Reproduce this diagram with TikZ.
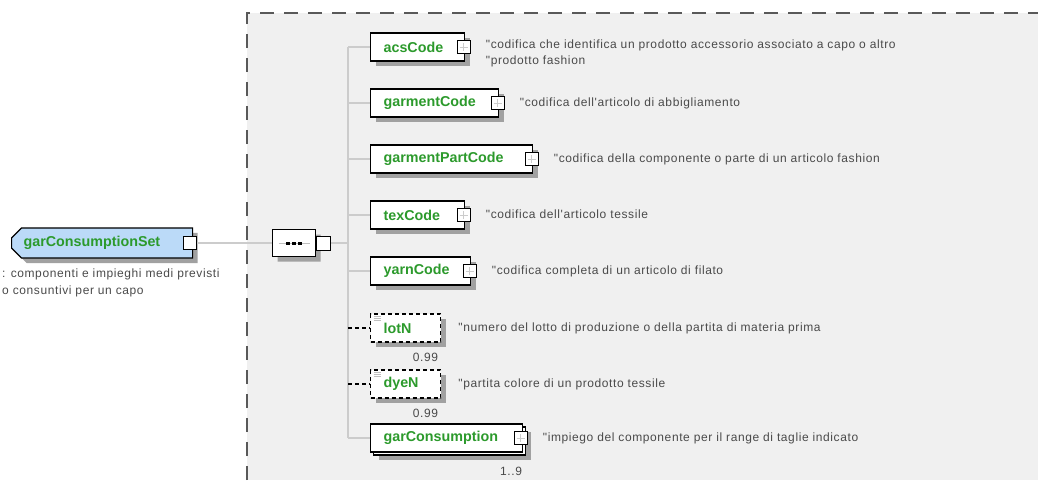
\documentclass[tikz,border=0pt]{standalone}
\usepackage{fontspec}
\setmainfont{Liberation Sans}
\newfontfamily\descfont[LetterSpace=5]{Liberation Sans}
\usetikzlibrary{positioning,shapes.misc,shadows}
\definecolor{bggray}{HTML}{F0F0F0}
\definecolor{elgreen}{HTML}{2C9A2C}
\definecolor{rootblue}{HTML}{BBDAF8}
\definecolor{desctext}{HTML}{4A4A4A}
\definecolor{linegray}{HTML}{CCCCCC}
\tikzset{
  boxshadow/.style={drop shadow={shadow xshift=5pt,shadow yshift=-5pt,fill=black!37,opacity=1}},
  elembase/.style={draw=black,line width=1.2pt,fill=white,anchor=west,minimum height=28pt,
    inner xsep=13pt,align=left,font=\bfseries\fontsize{14.3}{16}\selectfont,text=elgreen},
  elem/.style={elembase,boxshadow},
  optelem/.style={elem,dash pattern=on 4pt off 3pt,
    path picture={\draw[solid,black!25,line width=0.7pt]
      ([xshift=3pt,yshift=-2pt]path picture bounding box.north west) -- ++(7,0)
      ([xshift=3pt,yshift=-4pt]path picture bounding box.north west) -- ++(7,0)
      ([xshift=3pt,yshift=-6pt]path picture bounding box.north west) -- ++(7,0);}},
  multielem/.style={elembase,drop shadow={shadow xshift=8pt,shadow yshift=-8pt,fill=black!37,opacity=1},
    copy shadow={shadow xshift=3pt,shadow yshift=-3pt,draw=black,fill=white}},
  rootelem/.style={chamfered rectangle,chamfered rectangle corners={north west,south west},
    chamfered rectangle xsep=5pt,chamfered rectangle ysep=5pt,draw=black,line width=1.2pt,
    fill=rootblue,boxshadow,anchor=west,minimum width=181pt,minimum height=28pt,inner xsep=2pt,
    align=left,font=\bfseries\fontsize{14.3}{16}\selectfont,text=elgreen},
  seqbox/.style={chamfered rectangle,chamfered rectangle xsep=6pt,chamfered rectangle ysep=6pt,
    draw=black,line width=1.2pt,fill=white,boxshadow,anchor=west,minimum width=43pt,
    minimum height=27pt,inner sep=0pt,
    path picture={\draw[black!25,line width=1pt] ([xshift=6pt]path picture bounding box.west)
      -- ([xshift=-6pt]path picture bounding box.east);
      \foreach \k in {-6,0,6}
        \fill[black] ([xshift=\k pt]path picture bounding box.center) ++(-2,-1.5) rectangle ++(4,3);}},
  portbox/.style={draw=black,line width=1pt,fill=white,minimum size=13pt,inner sep=0pt},
  plusbox/.style={portbox,
    path picture={\draw[black!20,line width=1pt]
      ([yshift=-2.5pt]path picture bounding box.north) -- ([yshift=2.5pt]path picture bounding box.south)
      ([xshift=2.5pt]path picture bounding box.west) -- ([xshift=-2.5pt]path picture bounding box.east);}},
  desc/.style={anchor=base west,inner sep=0pt,text=desctext,font=\descfont\fontsize{12}{16}\selectfont,align=left},
  card/.style={anchor=base east,inner sep=0pt,text=desctext,font=\descfont\fontsize{12}{14}\selectfont},
  conn/.style={draw=linegray,line width=1.2pt},
}
\begin{document}
\begin{tikzpicture}[x=1pt,y=-1pt]
\useasboundingbox (0,0) rectangle (1038,480);
\fill[bggray] (247,13) rectangle (1038,480);
\draw[black!65,line width=1.5pt,dash pattern=on 14pt off 10pt] (247,480) -- (247,13) -- (1038,13);

% root element
\node[rootelem,text width=157pt] (root) at (11,243) {garConsumptionSet};
\node[portbox] (rootport) at ([xshift=-3pt]root.east) {};
\node[desc,font=\descfont\fontsize{12}{17}\selectfont] (rootdesc) at (2,294)
  {: componenti e impieghi medi previsti\\o consuntivi per un capo};

% sequence
\node[seqbox] (seq) at (272,243) {};
\node[portbox,anchor=west,minimum size=14pt] (seqport) at (seq.east) {};
\coordinate (trunk) at (348,243);

% children
\node[elem,text width=68pt] (acs) at (370,47) {acsCode};
\node[plusbox] (acsplus) at ([xshift=-1.5pt]acs.east) {};
\node[elem,text width=102pt] (garment) at (370,103) {garmentCode};
\node[plusbox] (garmentplus) at ([xshift=-1.5pt]garment.east) {};
\node[elem,text width=136pt] (garmentpart) at (370,159) {garmentPartCode};
\node[plusbox] (garmentpartplus) at ([xshift=-1.5pt]garmentpart.east) {};
\node[elem,text width=68pt] (tex) at (370,215) {texCode};
\node[plusbox] (texplus) at ([xshift=-1.5pt]tex.east) {};
\node[elem,text width=74pt] (yarn) at (370,271) {yarnCode};
\node[plusbox] (yarnplus) at ([xshift=-1.5pt]yarn.east) {};
\node[optelem,text width=44pt] (lotN) at (370,328) {lotN};
\node[optelem,text width=44pt] (dyeN) at (370,384) {dyeN};
\node[multielem,text width=126pt] (garc) at (370,438) {garConsumption};
\node[plusbox] (garcplus) at ([xshift=-2.5pt]garc.east) {};

% cardinalities
\node[card] (lotNcard) at ([xshift=-3pt,yshift=-19pt]lotN.south east) {0.99};
\node[card] (dyeNcard) at ([xshift=-3pt,yshift=-19pt]dyeN.south east) {0.99};
\node[card] (garccard) at ([xshift=-1pt,yshift=-23pt]garc.south east) {1..9};

% connectors
\draw[conn] (rootport.east) -- (seq.west);
\draw[conn] (seqport.east) -- (trunk);
\draw[conn] (acs.west -| trunk) -- (garc.west -| trunk);
\draw[conn] (acs.west -| trunk) -- (acs.west);
\draw[conn] (garment.west -| trunk) -- (garment.west);
\draw[conn] (garmentpart.west -| trunk) -- (garmentpart.west);
\draw[conn] (tex.west -| trunk) -- (tex.west);
\draw[conn] (yarn.west -| trunk) -- (yarn.west);
\draw[black,line width=1.2pt,dash pattern=on 4pt off 3pt] (lotN.west -| trunk) -- (lotN.west);
\draw[black,line width=1.2pt,dash pattern=on 4pt off 3pt] (dyeN.west -| trunk) -- (dyeN.west);
\draw[conn] (garc.west -| trunk) -- (garc.west);

% descriptions
\node[desc] (acsdesc) at ([xshift=15pt,yshift=-17pt]acsplus.east)
  {"codifica che identifica un prodotto accessorio associato a capo o altro\\"prodotto fashion};
\node[desc] (garmentdesc) at ([xshift=15pt,yshift=-3pt]garmentplus.east) {"codifica dell'articolo di abbigliamento};
\node[desc] (garmentpartdesc) at ([xshift=15pt,yshift=-3pt]garmentpartplus.east) {"codifica della componente o parte di un articolo fashion};
\node[desc] (texdesc) at ([xshift=15pt,yshift=-3pt]texplus.east) {"codifica dell'articolo tessile};
\node[desc] (yarndesc) at ([xshift=15pt,yshift=-3pt]yarnplus.east) {"codifica completa di un articolo di filato};
\node[desc] (lotNdesc) at ([xshift=17pt,yshift=-3pt]lotN.east) {"numero del lotto di produzione o della partita di materia prima};
\node[desc] (dyeNdesc) at ([xshift=17pt,yshift=-3pt]dyeN.east) {"partita colore di un prodotto tessile};
\node[desc] (garcdesc) at ([xshift=15pt,yshift=-3pt]garcplus.east) {"impiego del componente per il range di taglie indicato};
\end{tikzpicture}
\end{document}
